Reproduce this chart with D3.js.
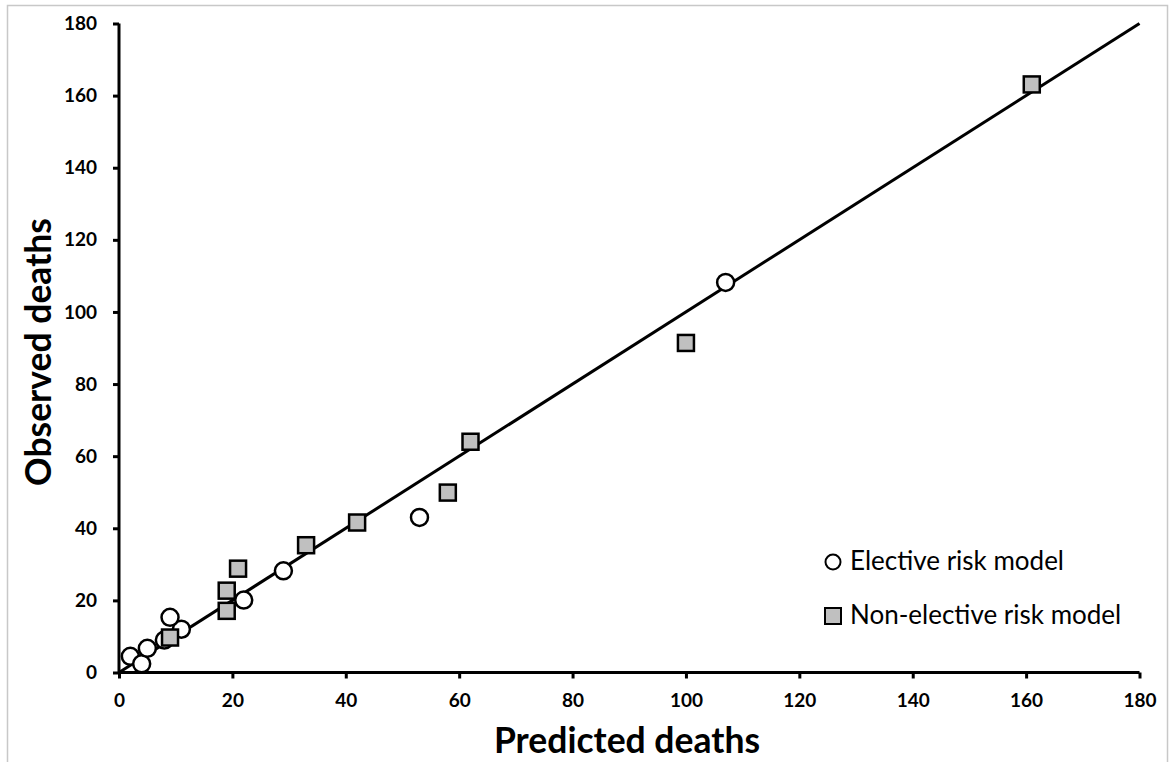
<!DOCTYPE html>
<html>
<head>
<meta charset="utf-8">
<script src="https://cdn.jsdelivr.net/npm/d3@7"></script>
<style>
  html, body { margin: 0; padding: 0; background: #fff; }
  svg { display: block; }
  text { font-family: Lato, "Open Sans", sans-serif; }
</style>
</head>
<body>
<svg id="chart" width="1176" height="762"></svg>
<script>
// Predicted vs observed deaths, by risk model
const electivePredicted = [2, 4, 5, 8, 11, 9, 22, 29, 53, 107];
const electiveObserved  = [4.5, 2.4, 6.7, 9, 12, 15.3, 20.1, 28.2, 43, 108.2];

const nonElectivePredicted = [9, 19, 19, 21, 33, 42, 58, 62, 100, 161];
const nonElectiveObserved  = [9.7, 17.1, 22.7, 28.8, 35.3, 41.6, 49.9, 64, 91.4, 163.1];

const tickValues = [0, 20, 40, 60, 80, 100, 120, 140, 160, 180];
const identityLine = [0, 180];

const legendLabels = ["Elective risk model", "Non-elective risk model"];

const svg = d3.select("#chart");

// outer frame
svg.append("rect")
  .attr("x", 7.5).attr("y", 5.5)
  .attr("width", 1160).attr("height", 770)
  .attr("fill", "#fff").attr("stroke", "#c8c8c8").attr("stroke-width", 1.5);

const x = d3.scaleLinear().domain([0, 180]).range([119, 1139.5]);
const y = d3.scaleLinear().domain([0, 180]).range([672.5, 23.5]);

// axes
const xAxis = d3.axisBottom(x).tickValues(tickValues).tickSize(6).tickPadding(15);
const yAxis = d3.axisLeft(y).tickValues(tickValues).tickSize(6).tickPadding(16);

const gx = svg.append("g").attr("transform", `translate(0,${y(0)})`).call(xAxis);
const gy = svg.append("g").attr("transform", `translate(${x(0)},0)`).call(yAxis);

[gx, gy].forEach(g => {
  g.select(".domain").attr("stroke", "#000").attr("stroke-width", 3);
  g.selectAll(".tick line").attr("stroke", "#000").attr("stroke-width", 3);
  g.selectAll(".tick text")
    .attr("fill", "#000")
    .style("font-family", "Lato, sans-serif")
    .style("font-size", "19px")
    .style("font-weight", "bold");
});
gx.select(".domain").attr("d", `M${x(0)},0H${x(180)}`);
gy.select(".domain").attr("d", `M0,${y(0)}V${y(180)}`);

// identity line y = x
svg.append("line")
  .attr("x1", x(identityLine[0])).attr("y1", y(identityLine[0]))
  .attr("x2", x(identityLine[1])).attr("y2", y(identityLine[1]))
  .attr("stroke", "#000").attr("stroke-width", 3);

// elective points (open circles)
svg.append("g").selectAll("circle")
  .data(electivePredicted.map((p, i) => [p, electiveObserved[i]]))
  .join("circle")
  .attr("cx", d => x(d[0])).attr("cy", d => y(d[1]))
  .attr("r", 8.5)
  .attr("fill", "#fff").attr("stroke", "#000").attr("stroke-width", 2.5);

// non-elective points (grey squares)
const sq = 16;
svg.append("g").selectAll("rect")
  .data(nonElectivePredicted.map((p, i) => [p, nonElectiveObserved[i]]))
  .join("rect")
  .attr("x", d => x(d[0]) - sq / 2).attr("y", d => y(d[1]) - sq / 2)
  .attr("width", sq).attr("height", sq)
  .attr("fill", "#c0c0c0").attr("stroke", "#000").attr("stroke-width", 2.5);

// axis titles
svg.append("text")
  .attr("x", 627).attr("y", 753)
  .attr("text-anchor", "middle")
  .style("font-size", "35.5px").style("font-weight", "bold")
  .text("Predicted deaths");

svg.append("text")
  .attr("transform", "translate(51,352) rotate(-90)")
  .attr("text-anchor", "middle")
  .style("font-size", "35.5px").style("font-weight", "bold")
  .text("Observed deaths");

// legend
const legend = svg.append("g");
legend.append("circle")
  .attr("cx", 833).attr("cy", 562).attr("r", 7.5)
  .attr("fill", "#fff").attr("stroke", "#000").attr("stroke-width", 2);
legend.append("rect")
  .attr("x", 825).attr("y", 608).attr("width", 16).attr("height", 16)
  .attr("fill", "#c0c0c0").attr("stroke", "#000").attr("stroke-width", 2);
legend.selectAll("text.lab")
  .data(legendLabels)
  .join("text")
  .attr("class", "lab")
  .attr("x", 850).attr("y", (d, i) => 570 + i * 54)
  .style("font-size", "26px")
  .text(d => d);
</script>
</body>
</html>
